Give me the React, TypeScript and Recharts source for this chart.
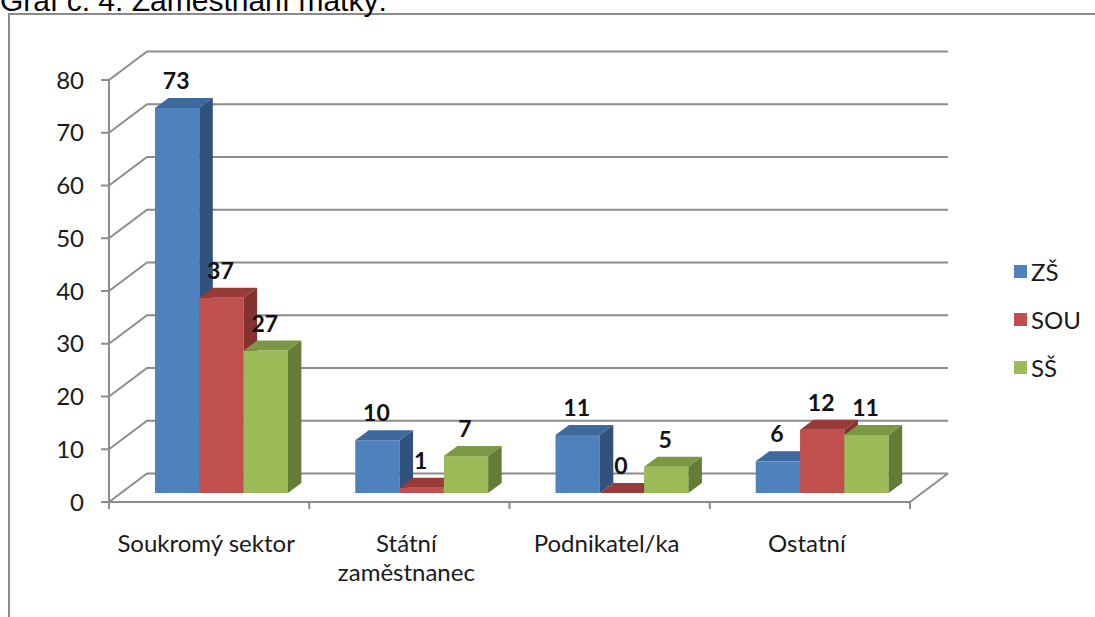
import React from 'react';
import { BarChart, Bar, XAxis, YAxis, CartesianGrid, LabelList } from 'recharts';

const categories = ['Soukromý sektor', 'Státní zaměstnanec', 'Podnikatel/ka', 'Ostatní'];
const categoryLabelLines = [['Soukromý sektor'], ['Státní', 'zaměstnanec'], ['Podnikatel/ka'], ['Ostatní']];
const zsValues = [73, 10, 11, 6];
const souValues = [37, 1, 0, 12];
const ssValues = [27, 7, 5, 11];
const seriesNames = ['ZŠ', 'SOU', 'SŠ'];
const yTicks = [0, 10, 20, 30, 40, 50, 60, 70, 80];
const titleText = 'Graf č. 4: Zaměstnání matky:';

const data = categories.map((c, i) => ({ name: c, zs: zsValues[i], sou: souValues[i], ss: ssValues[i] }));

const palettes = [
  { front: '#4F81BD', top: '#3E699C', side: '#30527D' },
  { front: '#C0504D', top: '#973B39', side: '#843230' },
  { front: '#9BBB59', top: '#7C9844', side: '#647D36' },
];

const FONT = 'Lato, "Open Sans", sans-serif';
const FS = 24;
const GRID = '#8c8c8c';
// wall depth
const WX = 38;
const WY = -28.5;
// bar front-plane offset
const OX = 12;
const OY = -9;
// bar depth
const BX = 13.5;
const BY = -10;

const make3DBar = (pal: { front: string; top: string; side: string }) => (props: any) => {
  const { x, y, width, height } = props;
  if (x == null || y == null) return <g />;
  const h = Math.max(0, height || 0);
  const fx = x + OX;
  const fy = y + OY;
  const w = width;
  const top = `M${fx},${fy} L${fx + BX},${fy + BY} L${fx + w + BX},${fy + BY} L${fx + w},${fy} Z`;
  const side = `M${fx + w},${fy} L${fx + w + BX},${fy + BY} L${fx + w + BX},${fy + h + BY} L${fx + w},${fy + h} Z`;
  return (
    <g>
      {h > 0 && <rect x={fx} y={fy} width={w} height={h} fill={pal.front} />}
      <path d={top} fill={pal.top} />
      <path d={side} fill={pal.side} />
    </g>
  );
};

const gridLine = (p: any) => {
  const { x1, y1, x2 } = p;
  const isFloor = typeof p.y === 'number' && typeof p.height === 'number' && Math.abs(y1 - (p.y + p.height)) < 1;
  let d = `M${x1},${y1} L${x1 + WX},${y1 + WY} L${x2 + WX},${y1 + WY}`;
  if (isFloor) {
    d += ` M${x2},${y1} L${x2 + WX},${y1 + WY}`;
    const n = categories.length;
    for (let i = 0; i <= n; i++) {
      const tx = x1 + (i * (x2 - x1)) / n;
      d += ` M${tx},${y1} L${tx},${y1 + 7}`;
    }
  }
  return <path key={`g-${y1}`} d={d} stroke={GRID} strokeWidth={2} fill="none" />;
};

const renderLabel = (props: any) => {
  const { x, y, width, value } = props;
  if (x == null) return null;
  const cx = x + OX + width / 2 - 1;
  const cy = y + OY - 27;
  return (
    <text x={cx} y={cy + 8} textAnchor="middle" fontFamily={FONT} fontSize={23} fontWeight={700} fill="#111">
      {value}
    </text>
  );
};

const XTick = (props: any) => {
  const { x, y, index } = props;
  const lines = categoryLabelLines[index] || [String(props.payload?.value ?? '')];
  return (
    <g>
      {lines.map((l: string, i: number) => (
        <text key={i} x={x - 3} y={y + 50 + i * 28.5} textAnchor="middle" fontFamily={FONT} fontSize={FS} fill="#1a1a1a">
          {l}
        </text>
      ))}
    </g>
  );
};

export default function App() {
  const keys = ['zs', 'sou', 'ss'];
  return (
    <div style={{ position: 'absolute', left: 0, top: 0, width: 1095, height: 617, overflow: 'hidden', background: '#fff' }}>
      <div
        style={{
          position: 'absolute', left: 8, top: 13, width: 1200, height: 700,
          borderLeft: `2px solid #8a8a8a`, borderTop: `2px solid #8a8a8a`, boxSizing: 'border-box',
        }}
      />
      <div
        style={{
          position: 'absolute', left: 0, top: -16, fontFamily: '"Liberation Sans", Arial, sans-serif',
          fontSize: 30, lineHeight: '34px', whiteSpace: 'nowrap', color: '#000',
        }}
      >
        {titleText}
      </div>
      <div style={{ position: 'absolute', left: 0, top: 0 }}>
        <BarChart
          width={1095}
          height={617}
          data={data}
          margin={{ top: 80, right: 185, bottom: 55, left: 49 }}
          barGap={0}
          barSize={44.3}
        >
          <CartesianGrid vertical={false} horizontal={gridLine as any} />
          <XAxis
            dataKey="name"
            height={60}
            tickLine={false}
            tickSize={0}
            tickMargin={0}
            axisLine={{ stroke: GRID, strokeWidth: 2 }}
            tick={<XTick />}
            interval={0}
          />
          <YAxis
            width={60}
            domain={[0, 80]}
            ticks={yTicks}
            interval={0}
            tickSize={8}
            tickMargin={17}
            axisLine={{ stroke: GRID, strokeWidth: 2 }}
            tickLine={{ stroke: GRID, strokeWidth: 2 }}
            tick={{ fontFamily: FONT, fontSize: FS, fill: '#1a1a1a' }}
          />
          {keys.map((k, i) => (
            <Bar
              key={k}
              dataKey={k}
              name={seriesNames[i]}
              fill={palettes[i].front}
              shape={make3DBar(palettes[i]) as any}
              isAnimationActive={false}
            >
              <LabelList dataKey={k} content={renderLabel as any} />
            </Bar>
          ))}
        </BarChart>
      </div>
      <div style={{ position: 'absolute', left: 1014, top: 247, fontFamily: FONT, fontSize: FS, color: '#1a1a1a' }}>
        {seriesNames.map((n, i) => (
          <div key={n} style={{ height: 48, display: 'flex', alignItems: 'center' }}>
            <span style={{ display: 'inline-block', width: 13, height: 13, background: palettes[i].front, marginRight: 4 }} />
            <span>{n}</span>
          </div>
        ))}
      </div>
    </div>
  );
}
